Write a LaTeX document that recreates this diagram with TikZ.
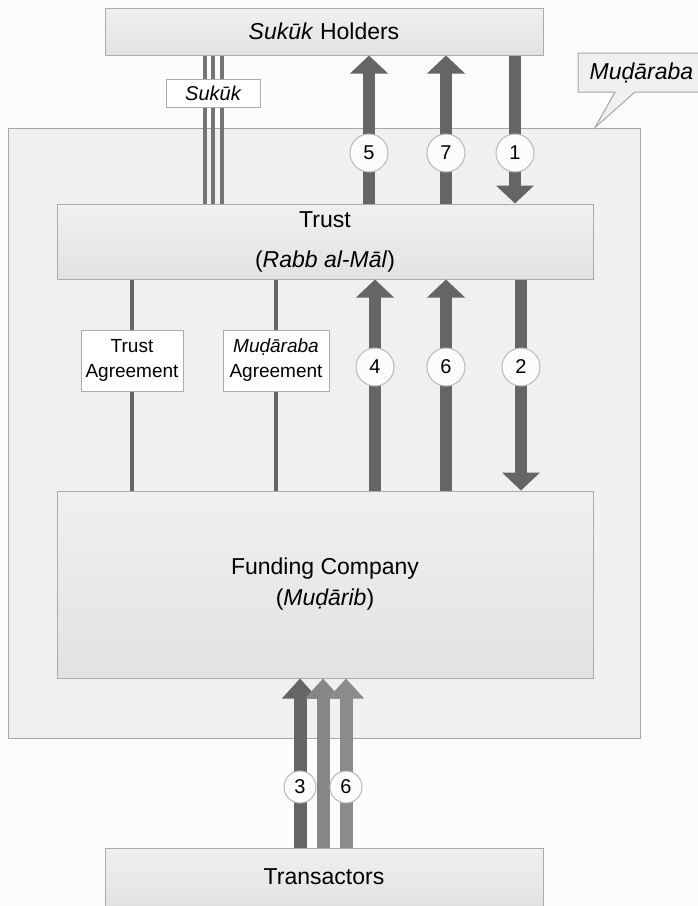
\documentclass[tikz,border=0pt]{standalone}
\usepackage{fontspec}
\setmainfont{Liberation Sans}
\usetikzlibrary{arrows.meta,shapes.callouts,calc}

\definecolor{pagebg}{HTML}{FCFCFC}
\definecolor{framefill}{HTML}{F0F0F0}
\definecolor{frameline}{HTML}{A6A6A6}
\definecolor{boxtop}{HTML}{F0F0F0}
\definecolor{boxbot}{HTML}{E2E2E2}
\definecolor{boxline}{HTML}{ABABAB}
\definecolor{flowdark}{HTML}{656565}
\definecolor{flowmid}{HTML}{868686}
\definecolor{flowlight}{HTML}{8B8B8B}
\definecolor{ringline}{HTML}{B8B8B8}

\newcommand\diabig{\fontsize{23}{28}\selectfont}
\newcommand\diamid{\fontsize{19}{25}\selectfont}
\newcommand\dianum{\fontsize{20}{24}\selectfont}

\pgfdeclarelayer{back}
\pgfdeclarelayer{links}
\pgfsetlayers{back,links,main}

\tikzset{
  partybox/.style={draw=boxline, line width=1pt, top color=boxtop,
    bottom color=boxbot, inner sep=0pt, font=\diabig, align=center},
  framebox/.style={draw=frameline, line width=1pt, fill=framefill, inner sep=0pt},
  tagbox/.style={draw=boxline, line width=1pt, fill=white, inner sep=0pt,
    font=\diamid, align=center},
  stepnum/.style={circle, draw=ringline, line width=1pt, fill=pagebg,
    inner sep=0pt, font=\dianum},
  flow/.style={draw=flowdark, line width=12pt,
    -{Triangle[width=37pt,length=18pt]}, color=flowdark},
  lowflow/.style={line width=13pt, -{Triangle[width=35pt,length=20pt]}},
  tie/.style={draw=flowdark, line width=4pt},
}

\begin{document}
\begin{tikzpicture}[x=1pt,y=-1pt]
\useasboundingbox (0,0) rectangle (698,906);

% boxes
\begin{pgfonlayer}{back}
  \fill[pagebg] (0,0) rectangle (698,906);
  \node[framebox, minimum width=632pt, minimum height=610pt] (mudaraba) at (324,433) {};
  \node[rectangle callout, draw=frameline, line width=1pt, fill=framefill,
        minimum width=127pt, minimum height=39pt, inner sep=0pt,
        callout absolute pointer={(595,0 |- mudaraba.north)},
        callout pointer width=20pt, font=\diabig\itshape]
        (mudtag) at (641.5,72.5) {Muḍāraba};
  \node[partybox, minimum width=438pt, minimum height=47pt] (holders) at (324,31.5)
        {\textit{Sukūk} Holders};
  \node[partybox, minimum width=536pt, minimum height=75pt] (trust) at (325,241.5)
        {Trust\\[12pt](\textit{Rabb al-Māl})};
  \node[partybox, minimum width=536pt, minimum height=187pt] (funding) at (325,584.5)
        {Funding Company\\[3pt](\textit{Muḍārib})};
  \node[partybox, minimum width=438pt, minimum height=58pt] (transactors) at (324,877)
        {Transactors};
\end{pgfonlayer}

% labels on the links
\node[tagbox, minimum width=94pt, minimum height=28pt, font=\fontsize{20}{24}\selectfont\itshape]
      (sukuk) at (213,93) {Sukūk};
\node[tagbox, minimum width=102pt, minimum height=61pt] (trustagr) at (132,360.5)
      {Trust\\Agreement};
\node[tagbox, minimum width=106pt, minimum height=61pt] (mudagr) at (276,360.5)
      {\textit{Muḍāraba}\\Agreement};

% numbered steps
\node[stepnum, minimum size=38pt] (s5) at (369,153) {5};
\node[stepnum, minimum size=38pt] (s7) at (446,153) {7};
\node[stepnum, minimum size=38pt] (s1) at (515,153) {1};
\node[stepnum, minimum size=38pt] (s4) at (375,367) {4};
\node[stepnum, minimum size=38pt] (s6) at (446,367) {6};
\node[stepnum, minimum size=38pt] (s2) at (521,367) {2};
\node[stepnum, minimum size=32pt] (s3) at (300,787) {3};
\node[stepnum, minimum size=32pt] (s6b) at (346,787) {6};

% links
\begin{pgfonlayer}{links}
  \foreach \dx in {-8,0,9}
    \draw[tie, draw=flowdark!90] ([xshift=\dx pt]sukuk.center |- holders.south)
      -- ([xshift=\dx pt]sukuk.center |- trust.north);
  \draw[tie] (trustagr |- trust.south) -- (trustagr |- funding.north);
  \draw[tie] (mudagr |- trust.south) -- (mudagr |- funding.north);

  \draw[flow] (s5 |- trust.north) -- (s5 |- holders.south);
  \draw[flow] (s7 |- trust.north) -- (s7 |- holders.south);
  \draw[flow] (s1 |- holders.south) -- (s1 |- trust.north);

  \draw[flow] (s4 |- funding.north) -- (s4 |- trust.south);
  \draw[flow] (s6 |- funding.north) -- (s6 |- trust.south);
  \draw[flow] (s2 |- trust.south) -- (s2 |- funding.north);

  \draw[lowflow, draw=flowdark, color=flowdark]
    (s3 |- transactors.north) -- (s3 |- funding.south);
  \coordinate (midlow) at ($(s3)!0.5!(s6b)$);
  \draw[lowflow, draw=flowmid, color=flowmid]
    (midlow |- transactors.north) -- (midlow |- funding.south);
  \draw[lowflow, draw=flowlight, color=flowlight]
    (s6b |- transactors.north) -- (s6b |- funding.south);
\end{pgfonlayer}
\end{tikzpicture}
\end{document}
